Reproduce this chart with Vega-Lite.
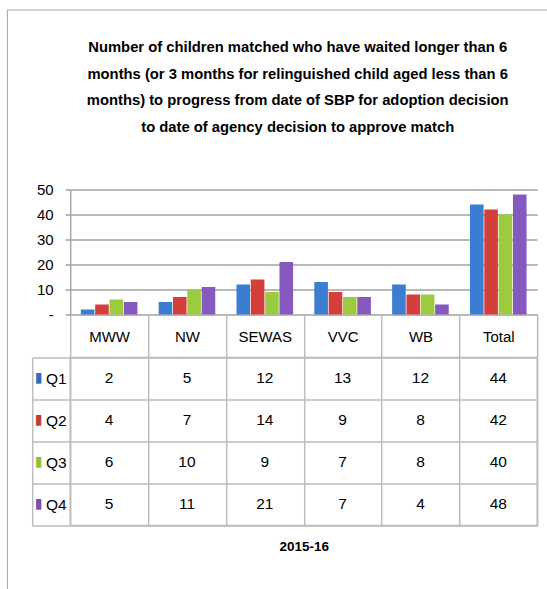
{
  "$schema": "https://vega.github.io/schema/vega-lite/v6.json",
  "padding": {"left": 6.2, "top": 8.5, "right": 0, "bottom": 0},
  "background": "white",
  "datasets": {
    "t": [
      {"region": "MWW", "quarter": "Q1", "value": 2},
      {"region": "MWW", "quarter": "Q2", "value": 4},
      {"region": "MWW", "quarter": "Q3", "value": 6},
      {"region": "MWW", "quarter": "Q4", "value": 5},
      {"region": "NW", "quarter": "Q1", "value": 5},
      {"region": "NW", "quarter": "Q2", "value": 7},
      {"region": "NW", "quarter": "Q3", "value": 10},
      {"region": "NW", "quarter": "Q4", "value": 11},
      {"region": "SEWAS", "quarter": "Q1", "value": 12},
      {"region": "SEWAS", "quarter": "Q2", "value": 14},
      {"region": "SEWAS", "quarter": "Q3", "value": 9},
      {"region": "SEWAS", "quarter": "Q4", "value": 21},
      {"region": "VVC", "quarter": "Q1", "value": 13},
      {"region": "VVC", "quarter": "Q2", "value": 9},
      {"region": "VVC", "quarter": "Q3", "value": 7},
      {"region": "VVC", "quarter": "Q4", "value": 7},
      {"region": "WB", "quarter": "Q1", "value": 12},
      {"region": "WB", "quarter": "Q2", "value": 8},
      {"region": "WB", "quarter": "Q3", "value": 8},
      {"region": "WB", "quarter": "Q4", "value": 4},
      {"region": "Total", "quarter": "Q1", "value": 44},
      {"region": "Total", "quarter": "Q2", "value": 42},
      {"region": "Total", "quarter": "Q3", "value": 40},
      {"region": "Total", "quarter": "Q4", "value": 48}
    ]
  },
  "spacing": -11,
  "config": {
    "view": {"stroke": null},
    "font": "Liberation Sans"
  },
  "vconcat": [
    {
      "width": 467,
      "height": 125,
      "title": {
        "text": [
          "Number of children matched who have waited longer than 6",
          "months (or 3 months for relinguished child aged less than 6",
          "months) to progress from date of SBP for adoption decision",
          "to date of agency decision to approve match"
        ],
        "font": "Liberation Sans",
        "fontSize": 14.8,
        "fontWeight": "bold",
        "lineHeight": 26.5,
        "color": "black",
        "anchor": "middle",
        "dx": -6,
        "offset": 48
      },
      "data": {"name": "t"},
      "mark": {"type": "bar"},
      "encoding": {
        "x": {
          "field": "region",
          "type": "nominal",
          "sort": ["MWW", "NW", "SEWAS", "VVC", "WB", "Total"],
          "scale": {"paddingInner": 0, "paddingOuter": 0},
          "axis": {
            "title": null,
            "labelAngle": 0,
            "labelFontSize": 15,
            "labelColor": "black",
            "labelPadding": -27,
            "labelBaseline": "top",
            "tickBand": "extent",
            "tickSize": 42,
            "tickColor": "#bdbdbd",
            "tickWidth": 1.5,
            "domain": false,
            "grid": false
          }
        },
        "xOffset": {
          "field": "quarter",
          "type": "nominal",
          "scale": {"paddingOuter": 0.74, "paddingInner": 0.05}
        },
        "y": {
          "field": "value",
          "type": "quantitative",
          "scale": {"domain": [0, 50], "nice": false},
          "axis": {
            "title": null,
            "values": [0, 10, 20, 30, 40, 50],
            "labelExpr": "datum.value === 0 ? '-\u00a0\u00a0\u00a0' : datum.label",
            "labelFontSize": 15,
            "labelColor": "black",
            "labelPadding": 12,
            "tickSize": 5,
            "tickColor": "#a0a0a0",
            "tickWidth": 1.5,
            "grid": true,
            "gridColor": "#a0a0a0",
            "gridWidth": 1.5,
            "domain": true,
            "domainColor": "#a8a8a8",
            "domainWidth": 1.5
          }
        },
        "color": {
          "field": "quarter",
          "type": "nominal",
          "scale": {"domain": ["Q1", "Q2", "Q3", "Q4"], "range": ["#3b7dd1", "#d43f3c", "#9dcb3f", "#8659bf"]},
          "legend": {
            "orient": "none",
            "legendX": -63.3,
            "legendY": -180,
            "padding": 300,
            "title": null,
            "symbolOpacity": 0,
            "labelExpr": "''",
            "strokeColor": "#a6a6a6"
          }
        }
      }
    },
    {
      "width": 467,
      "height": 168,
      "data": {"name": "t"},
      "view": {"stroke": "#bdbdbd", "strokeWidth": 1.5},
      "resolve": {"axis": {"y": "independent"}},
      "layer": [
        {
          "mark": {"type": "text", "fontSize": 15.5, "color": "black"},
          "encoding": {
            "x": {
              "field": "region",
              "type": "nominal",
              "sort": ["MWW", "NW", "SEWAS", "VVC", "WB", "Total"],
              "scale": {"paddingInner": 0, "paddingOuter": 0},
              "axis": {
                "orient": "bottom",
                "labels": false,
                "ticks": false,
                "domain": false,
                "grid": true,
                "tickBand": "extent",
                "gridColor": "#bdbdbd",
                "gridWidth": 1.5,
                "title": "2015-16",
                "titleFontSize": 13.5,
                "titleFontWeight": "bold",
                "titleColor": "black",
                "titlePadding": 14
              }
            },
            "y": {
              "field": "quarter",
              "type": "nominal",
              "sort": ["Q1", "Q2", "Q3", "Q4"],
              "scale": {"paddingInner": 0, "paddingOuter": 0},
              "axis": {
                "orient": "left",
                "title": null,
                "labelFontSize": 15.5,
                "labelColor": "black",
                "labelPadding": -34,
                "tickBand": "extent",
                "tickSize": 38,
                "tickColor": "#bdbdbd",
                "tickWidth": 1.5,
                "grid": true,
                "gridColor": "#bdbdbd",
                "gridWidth": 1.5,
                "domain": false
              }
            },
            "text": {"field": "value", "type": "quantitative"}
          }
        },
        {
          "mark": {"type": "text", "opacity": 0},
          "encoding": {
            "y": {
              "field": "quarter",
              "type": "nominal",
              "sort": ["Q1", "Q2", "Q3", "Q4"],
              "axis": {
                "orient": "left",
                "offset": 38,
                "title": null,
                "labelExpr": "'\u25ae'",
                "labelFont": "DejaVu Sans",
                "labelFontSize": 14,
                "labelPadding": -10,
                "labelColor": {
                  "condition": [
                    {"test": "datum.value === 'Q1'", "value": "#2f6ec0"},
                    {"test": "datum.value === 'Q2'", "value": "#c43a37"},
                    {"test": "datum.value === 'Q3'", "value": "#8fbf35"}
                  ],
                  "value": "#7a4fb3"
                },
                "ticks": false,
                "tickSize": 0,
                "grid": false,
                "domain": true,
                "domainColor": "#bdbdbd",
                "domainWidth": 1.5
              }
            },
            "text": {"value": "x"}
          }
        }
      ]
    }
  ]
}
